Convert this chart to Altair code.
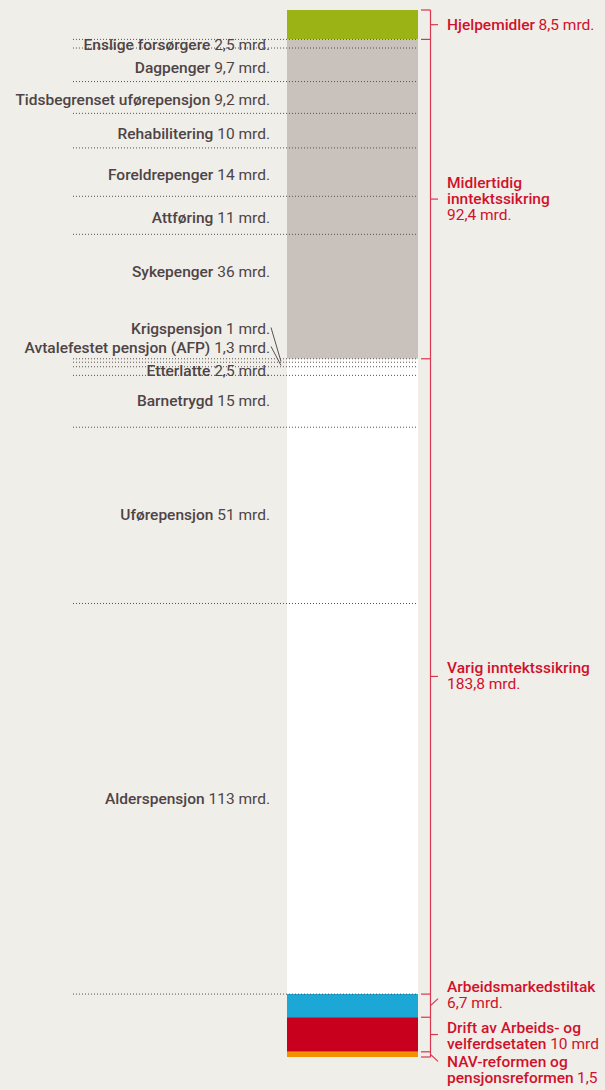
import altair as alt
import pandas as pd

# ---------------- data ----------------
group_names = ["Hjelpemidler", "Midlertidig inntektssikring", "Varig inntektssikring",
               "Arbeidsmarkedstiltak", "Drift av Arbeids- og velferdsetaten",
               "NAV-reformen og pensjonsreformen"]
group_values = [8.5, 92.4, 183.8, 6.7, 10.0, 1.5]
group_colors = ["#9bb314", "#c9c2bc", "#ffffff", "#1ba8d6", "#c8001e", "#f39200"]

mid_names = ["Enslige forsørgere", "Dagpenger", "Tidsbegrenset uførepensjon",
             "Rehabilitering", "Foreldrepenger", "Attføring", "Sykepenger"]
mid_values = [2.5, 9.7, 9.2, 10, 14, 11, 36]

var_names = ["Krigspensjon", "Avtalefestet pensjon (AFP)", "Etterlatte",
             "Barnetrygd", "Uførepensjon", "Alderspensjon"]
var_values = [1, 1.3, 2.5, 15, 51, 113]

def fmt(v, unit=" mrd."):
    return (f"{v:g}").replace(".", ",") + unit

# right-hand label lines: (bold part, regular part)
group_label_lines = [
    [("Hjelpemidler", fmt(group_values[0]))],
    [("Midlertidig", ""), ("inntektssikring", ""), ("", fmt(group_values[1]))],
    [("Varig inntektssikring", ""), ("", fmt(group_values[2]))],
    [("Arbeidsmarkedstiltak", ""), ("", fmt(group_values[3]))],
    [("Drift av Arbeids- og", ""), ("velferdsetaten", fmt(group_values[4], " mrd"))],
    [("NAV-reformen og", ""), ("pensjonsreformen", fmt(group_values[5], ""))],
]

# ---------------- layout / style ----------------
W, H = 605, 1090
TOP_PX, BAR_PX = 10, 1047
TOTAL = sum(group_values)
PPU = BAR_PX / TOTAL
FONT = "Roboto"
FS = 15.5
WEIGHT = 500
LINE_H = 16
TXT = "#4e4446"
RED = "#d0112b"
BRACKET = "#d9364f"
BG = "#f0eee9"

# label offsets in px (layout only)
left_shift = {"Enslige forsørgere": 1, "Dagpenger": 3, "Tidsbegrenset uførepensjon": 3,
              "Rehabilitering": 3, "Foreldrepenger": 3, "Attføring": 3,
              "Sykepenger": -25, "Krigspensjon": -31, "Avtalefestet pensjon (AFP)": -16}
leader_names = ["Krigspensjon", "Avtalefestet pensjon (AFP)"]
right_shift = [0, 0, 0, -11, 1, 16]
tick_shift = [0, 0, 0, -7, 0, 7]

REG_W = {**{d: 0.5615 for d in "0123456789"}, ",": 0.1963, ".": 0.2632, " ": 0.2476,
         "m": 0.8765, "r": 0.3384, "d": 0.5601}
BOLD_W = {"a": 0.543, "b": 0.562, "c": 0.524, "d": 0.563, "e": 0.530, "f": 0.349,
          "g": 0.563, "h": 0.552, "i": 0.254, "j": 0.248, "k": 0.511, "l": 0.254,
          "m": 0.875, "n": 0.552, "o": 0.569, "p": 0.562, "r": 0.346, "s": 0.516,
          "t": 0.334, "u": 0.552, "v": 0.497, "ø": 0.569, "H": 0.712, " ": 0.248}

def tw(s, table, default=0.55):
    return sum(table.get(c, default) for c in s) * FS

yscale = alt.Scale(domain=[-TOP_PX / PPU, (H - TOP_PX) / PPU], reverse=True, nice=False, zero=False)
xscale = alt.Scale(domain=[0, W], nice=False, zero=False)

def px(v):  # px offset -> data units
    return v / PPU

# groups
starts, s = [], 0.0
for v in group_values:
    starts.append(s); s += v
df_groups = pd.DataFrame({"name": group_names, "start": starts,
                          "end": [a + b for a, b in zip(starts, group_values)],
                          "color": group_colors})
df_groups["mid"] = (df_groups["start"] + df_groups["end"]) / 2

# sub items
sub_rows = []
s = starts[1]
for n, v in zip(mid_names, mid_values):
    sub_rows.append((n, v, s)); s += v
s = starts[2]
for n, v in zip(var_names, var_values):
    sub_rows.append((n, v, s)); s += v
df_sub = pd.DataFrame(sub_rows, columns=["name", "value", "start"])
df_sub["end"] = df_sub["start"] + df_sub["value"]
df_sub["mid"] = (df_sub["start"] + df_sub["end"]) / 2
df_sub["vlabel"] = df_sub["value"].map(fmt)
df_sub["ly"] = df_sub["mid"] + df_sub["name"].map(lambda n: px(left_shift.get(n, 0)))
df_sub["nx"] = 270 - df_sub["vlabel"].map(lambda t: tw(t, REG_W)) - 0.2476 * FS

bounds = list(df_sub["start"]) + [df_sub["end"].iloc[-1]]
df_bounds = pd.DataFrame({"y": bounds})

lead = df_sub[df_sub["name"].isin(leader_names)].copy()
lead["x1"] = 271
lead["x2"] = 281
lead["y1"] = lead["ly"] - px(2)
lead["y2"] = lead["mid"] + px(1)

# bracket
gb = pd.DataFrame({"y": [0.0] + list(df_groups["end"])})
df_ticks = pd.DataFrame({"y1": df_groups["mid"],
                         "y2": df_groups["mid"] + [px(t) for t in tick_shift]})

rl = []
for gi, lines in enumerate(group_label_lines):
    n = len(lines)
    for i, (b, r) in enumerate(lines):
        y = df_groups["mid"][gi] + px(right_shift[gi] + (i - (n - 1) / 2) * LINE_H)
        rx = 447 + (tw(b, BOLD_W) + 0.2476 * FS if b else 0)
        rl.append({"bold": b, "reg": r, "y": y, "rx": rx})
df_rl = pd.DataFrame(rl)

# ---------------- chart ----------------
Y = lambda f: alt.Y(f, scale=yscale, axis=None)

bars = alt.Chart(df_groups).mark_rect().encode(
    x=alt.value(287), x2=alt.value(418),
    y=Y("start:Q"), y2="end:Q",
    color=alt.Color("color:N", scale=None))

dots = alt.Chart(df_bounds).mark_rule(strokeDash=[1, 2], color="#5a5050", strokeWidth=1).encode(
    x=alt.value(73), x2=alt.value(418), y=Y("y:Q"))

vtext = alt.Chart(df_sub).mark_text(align="right", baseline="middle", font=FONT,
                                    fontSize=FS, color=TXT).encode(
    x=alt.value(270), y=Y("ly:Q"), text="vlabel:N")
ntext = alt.Chart(df_sub).mark_text(align="right", baseline="middle", font=FONT,
                                    fontSize=FS, fontWeight=WEIGHT, color=TXT).encode(
    x=alt.X("nx:Q", scale=xscale, axis=None), y=Y("ly:Q"), text="name:N")

leaders = alt.Chart(lead).mark_rule(color="#5a5050", strokeWidth=1).encode(
    x=alt.X("x1:Q", scale=xscale, axis=None), x2="x2:Q", y=Y("y1:Q"), y2="y2:Q")

vline = alt.Chart(pd.DataFrame({"a": [0.0], "b": [TOTAL]})).mark_rule(
    color=BRACKET, strokeWidth=1.2).encode(x=alt.value(430.5), y=Y("a:Q"), y2="b:Q")
bticks = alt.Chart(gb).mark_rule(color=BRACKET, strokeWidth=1.2).encode(
    x=alt.value(421), x2=alt.value(430.5), y=Y("y:Q"))
lticks = alt.Chart(df_ticks).mark_rule(color=BRACKET, strokeWidth=1.2).encode(
    x=alt.value(430.5), x2=alt.value(438), y=Y("y1:Q"), y2="y2:Q")

rbold = alt.Chart(df_rl).mark_text(align="left", baseline="middle", font=FONT,
                                   fontSize=FS, fontWeight=WEIGHT, color=RED).encode(
    x=alt.value(447), y=Y("y:Q"), text="bold:N")
rreg = alt.Chart(df_rl).mark_text(align="left", baseline="middle", font=FONT,
                                  fontSize=FS, color=RED).encode(
    x=alt.X("rx:Q", scale=xscale, axis=None), y=Y("y:Q"), text="reg:N")

chart = alt.layer(bars, dots, vtext, ntext, leaders, vline, bticks, lticks, rbold, rreg).properties(
    width=W, height=H, autosize=alt.AutoSizeParams(type="none"), padding=0, background=BG
).configure_view(strokeWidth=0)

chart.save("out.html", embed_options={"renderer": "svg", "actions": False})
